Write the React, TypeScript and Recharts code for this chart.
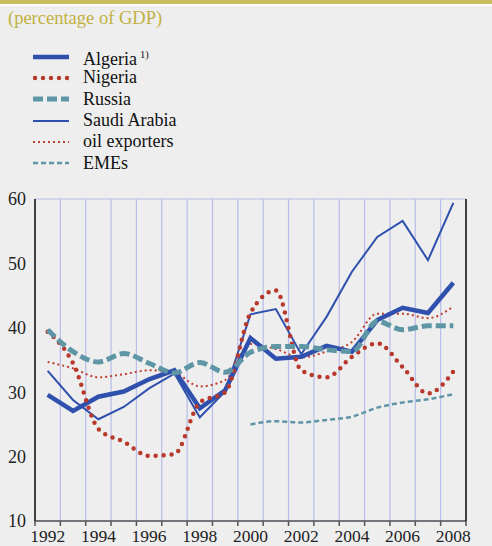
import React from 'react';
import { LineChart, Line, XAxis, YAxis, CartesianGrid } from 'recharts';

// annual values, percentage of GDP
const years = [1992, 1993, 1994, 1995, 1996, 1997, 1998, 1999, 2000, 2001, 2002, 2003, 2004, 2005, 2006, 2007, 2008];
const algeria = [29.6, 27.1, 29.3, 30.1, 32.0, 33.4, 27.5, 30.3, 38.4, 35.2, 35.5, 37.2, 36.3, 41.2, 43.1, 42.3, 47.0];
const nigeria = [39.4, 34.5, 24.3, 22.3, 20.1, 20.4, 28.4, 30.0, 42.3, 45.8, 33.4, 32.3, 35.5, 37.6, 33.9, 29.8, 33.2];
const russia = [39.7, 36.3, 34.7, 36.0, 34.5, 33.0, 34.6, 33.1, 36.2, 37.1, 37.1, 36.6, 36.3, 41.0, 39.7, 40.3, 40.3];
const saudiArabia = [33.3, 28.8, 25.8, 27.7, 30.6, 32.9, 26.1, 30.1, 42.1, 42.9, 35.9, 41.7, 48.7, 54.1, 56.6, 50.5, 59.4];
const oilExporters = [34.7, 33.7, 32.3, 32.8, 33.4, 33.0, 30.9, 31.9, 37.5, 36.7, 35.4, 36.3, 37.8, 42.2, 42.2, 41.5, 43.3];
const emes = [null, null, null, null, null, null, null, null, 25.0, 25.5, 25.3, 25.7, 26.2, 27.6, 28.4, 28.9, 29.7];

const yTicks = [10, 20, 30, 40, 50, 60];
const labelYears = [1992, 1994, 1996, 1998, 2000, 2002, 2004, 2006, 2008];

const data = years.map((year, i) => ({
    year,
    algeria: algeria[i],
    nigeria: nigeria[i],
    russia: russia[i],
    saudiArabia: saudiArabia[i],
    oilExporters: oilExporters[i],
    emes: emes[i]
}));

// year bands: gridlines & tick marks sit on the band edges
const bounds = [...years.map((y) => y - 0.5), years[years.length - 1] + 0.5];

const W = 492;
const H = 546;
const LEFT_AXIS = 35;
const RIGHT_AXIS = 26;
const bandPx = (W - LEFT_AXIS - RIGHT_AXIS) / years.length;

const FONT = '"Liberation Serif", "DejaVu Serif", "Times New Roman", serif';
const BLUE = '#2f50ad';
const RED = '#b8392c';
const TEAL = '#5e96a6';

const series = [
    { key: 'emes', name: 'EMEs', color: TEAL, width: 2.5, dash: '5 3', type: 'monotone' as const },
    { key: 'oilExporters', name: 'oil exporters', color: '#c23c2e', width: 2, dash: '2 3', type: 'monotone' as const },
    { key: 'saudiArabia', name: 'Saudi Arabia', color: BLUE, width: 2, dash: undefined, type: 'linear' as const },
    { key: 'algeria', name: 'Algeria', color: BLUE, width: 4.5, dash: undefined, type: 'linear' as const },
    { key: 'nigeria', name: 'Nigeria', color: RED, width: 4.5, dash: '0 8', type: 'monotone' as const, round: true },
    { key: 'russia', name: 'Russia', color: TEAL, width: 5, dash: '10 4', type: 'monotone' as const }
];

const legendOrder = ['algeria', 'nigeria', 'russia', 'saudiArabia', 'oilExporters', 'emes'];

const YearTick = (props: any) => {
    const { x, y, payload } = props;
    const year = payload.value + 0.5;
    if (!labelYears.includes(year)) return null;
    return (
        <text x={x + bandPx / 2} y={y + 16} textAnchor="middle" fontSize={17.5} fontFamily={FONT} fill="#222">
            {year}
        </text>
    );
};

const LegendSample = ({ s }: { s: (typeof series)[number] }) => (
    <svg width={36} height={12} style={{ display: 'block' }}>
        <line
            x1={s.round ? 2 : 0}
            y1={6}
            x2={36}
            y2={6}
            stroke={s.color}
            strokeWidth={s.width}
            strokeDasharray={s.dash}
            strokeLinecap={s.round ? 'round' : 'butt'}
        />
    </svg>
);

export default function App() {
    return (
        <div
            style={{
                position: 'absolute',
                left: 0,
                top: 0,
                width: W,
                height: H,
                background: '#eeeeee',
                fontFamily: FONT,
                overflow: 'hidden'
            }}
        >
            <div style={{ position: 'absolute', left: 0, top: 0, width: W, height: 3.5, background: '#c9bc5e' }} />
            <div style={{ position: 'absolute', left: 0, top: 3.5, width: W, height: 2.5, background: '#ffffff' }} />
            <div style={{ position: 'absolute', left: 8, top: 7, fontSize: 18.5, color: '#c2b142', lineHeight: '22px' }}>
                (percentage of GDP)
            </div>

            <div style={{ position: 'absolute', left: 33, top: 46 }}>
                {legendOrder.map((k) => {
                    const s = series.find((d) => d.key === k)!;
                    return (
                        <div key={k} style={{ display: 'flex', alignItems: 'center', height: 21.3 }}>
                            <LegendSample s={s} />
                            <span style={{ marginLeft: 14, fontSize: 18, color: '#111', lineHeight: '21px' }}>
                                {s.name}
                                {k === 'algeria' && (
                                    <sup style={{ fontSize: 10.5, marginLeft: 3 }}>1)</sup>
                                )}
                            </span>
                        </div>
                    );
                })}
            </div>

            <LineChart
                width={W}
                height={H}
                data={data}
                margin={{ top: 199, right: 0, bottom: 0, left: 0 }}
                style={{ position: 'absolute', left: 0, top: 0 }}
            >
                <CartesianGrid stroke="#b7bce8" strokeWidth={1.2} />
                <XAxis
                    dataKey="year"
                    type="number"
                    domain={[bounds[0], bounds[bounds.length - 1]]}
                    ticks={bounds}
                    interval={0}
                    height={25}
                    tickSize={5}
                    tickMargin={0}
                    tickLine={{ stroke: '#555', strokeWidth: 1.5 }}
                    axisLine={{ stroke: '#555', strokeWidth: 1.5 }}
                    tick={<YearTick />}
                />
                <YAxis
                    yAxisId="left"
                    width={LEFT_AXIS}
                    domain={[10, 60]}
                    ticks={yTicks}
                    interval={0}
                    tickLine={false}
                    tickSize={0}
                    tickMargin={9}
                    axisLine={{ stroke: '#111', strokeWidth: 1.5 }}
                    tick={{ fontSize: 18, fill: '#222', fontFamily: FONT }}
                />
                <YAxis
                    yAxisId="right"
                    orientation="right"
                    width={RIGHT_AXIS}
                    domain={[10, 60]}
                    ticks={yTicks}
                    interval={0}
                    tickLine={false}
                    tickSize={0}
                    tickMargin={7}
                    axisLine={{ stroke: '#111', strokeWidth: 1.5 }}
                    tick={{ fontSize: 18, fill: '#222', fontFamily: FONT, textAnchor: 'start' }}
                />
                {series.map((s) => (
                    <Line
                        key={s.key}
                        yAxisId="left"
                        type={s.type}
                        dataKey={s.key}
                        name={s.name}
                        stroke={s.color}
                        strokeWidth={s.width}
                        strokeDasharray={s.dash}
                        strokeLinecap={s.round ? 'round' : 'butt'}
                        dot={false}
                        activeDot={false}
                        connectNulls={false}
                        isAnimationActive={false}
                    />
                ))}
            </LineChart>
        </div>
    );
}
